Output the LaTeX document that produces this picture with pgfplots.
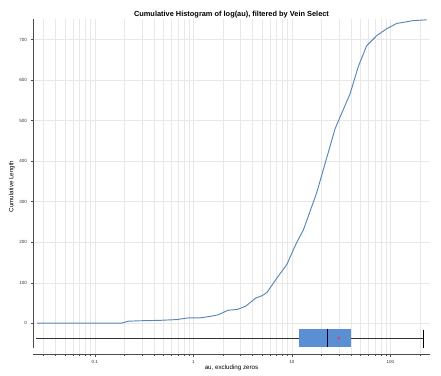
\documentclass[border=0pt]{standalone}
\usepackage{fontspec}
\setmainfont{Liberation Sans}
\usepackage{pgfplots}
\pgfplotsset{compat=1.18}
\usetikzlibrary{calc}
\definecolor{curve}{RGB}{90,135,185}
\definecolor{boxfill}{RGB}{91,143,212}
\definecolor{gridc}{RGB}{232,232,232}
\definecolor{meanc}{RGB}{210,70,100}
\begin{document}
\begin{tikzpicture}
\begin{axis}[
  scale only axis,
  width=397pt, height=335pt,
  xmode=log,
  xmin=0.0236, xmax=253,
  ymin=-76, ymax=751,
  axis lines*=left,
  x axis line style={black!70, line width=0.5pt},
  y axis line style={black!70, line width=0.5pt, shorten <=6pt},
  xtick={0.1,1,10,100},
  xticklabels={0.1,1,10,100},
  minor xtick={0.03,0.04,0.05,0.06,0.07,0.08,0.09,0.2,0.3,0.4,0.5,0.6,0.7,0.8,0.9,2,3,4,5,6,7,8,9,20,30,40,50,60,70,80,90,200},
  ytick={0,100,200,300,400,500,600,700},
  tick align=outside,
  major tick length=2.5pt,
  minor tick length=2pt,
  tick style={black!70, line width=0.4pt},
  xmajorgrids, xminorgrids, ymajorgrids,
  grid style={gridc, line width=0.4pt},
  minor grid style={gridc, line width=0.4pt},
  ticklabel style={font=\fontsize{4.5}{5}\selectfont, text=black!80},
  /pgf/number format/assume math mode=true,
  xlabel={au, excluding zeros},
  ylabel={Cumulative Length},
  label style={font=\fontsize{6.2}{7}\selectfont},
  xlabel style={yshift=5pt},
  ylabel style={yshift=-2pt},
  title={Cumulative Histogram of log(au), filtered by Vein Select},
  title style={font=\fontsize{7.4}{8.5}\selectfont\bfseries, yshift=-9pt},
  clip=false,
]
\addplot[curve, line width=0.95pt] coordinates {
(0.026,0) (0.185,0) (0.22,5) (0.28,6) (0.45,7) (0.68,9) (0.88,13) (1.15,13)
(1.5,17) (1.8,21) (2.25,32) (2.8,34) (3.4,42) (4.3,62) (5.0,68) (5.6,76)
(7.0,110) (8.9,145) (11.0,195) (13.1,230) (17.9,322) (27.5,480) (39,566)
(47.4,634) (57.6,685) (72.8,710) (92,727) (116,740) (171,747) (234,749)
};
% whisker line
\addplot[black!80, line width=0.6pt] coordinates {(0.0253,-37) (219,-37)};
% whisker cap
\addplot[black, line width=1.2pt] coordinates {(219,-16) (219,-60)};
% box
\addplot[draw=none, fill=boxfill] coordinates {(11.8,-14) (40,-14) (40,-59) (11.8,-59)} -- cycle;
% median
\addplot[black!80!blue, line width=0.8pt] coordinates {(22.9,-14) (22.9,-59)};
% mean
\addplot[only marks, mark=*, mark size=1.3pt, color=meanc] coordinates {(30,-37)};
\coordinate (sw) at (rel axis cs:0,0);
\coordinate (ne) at (rel axis cs:1,1);
\end{axis}
\pgfresetboundingbox
\path[use as bounding box] ($(sw)+(-33pt,-21pt)$) rectangle ($(ne)+(11pt,19pt)$);
\end{tikzpicture}
\end{document}
